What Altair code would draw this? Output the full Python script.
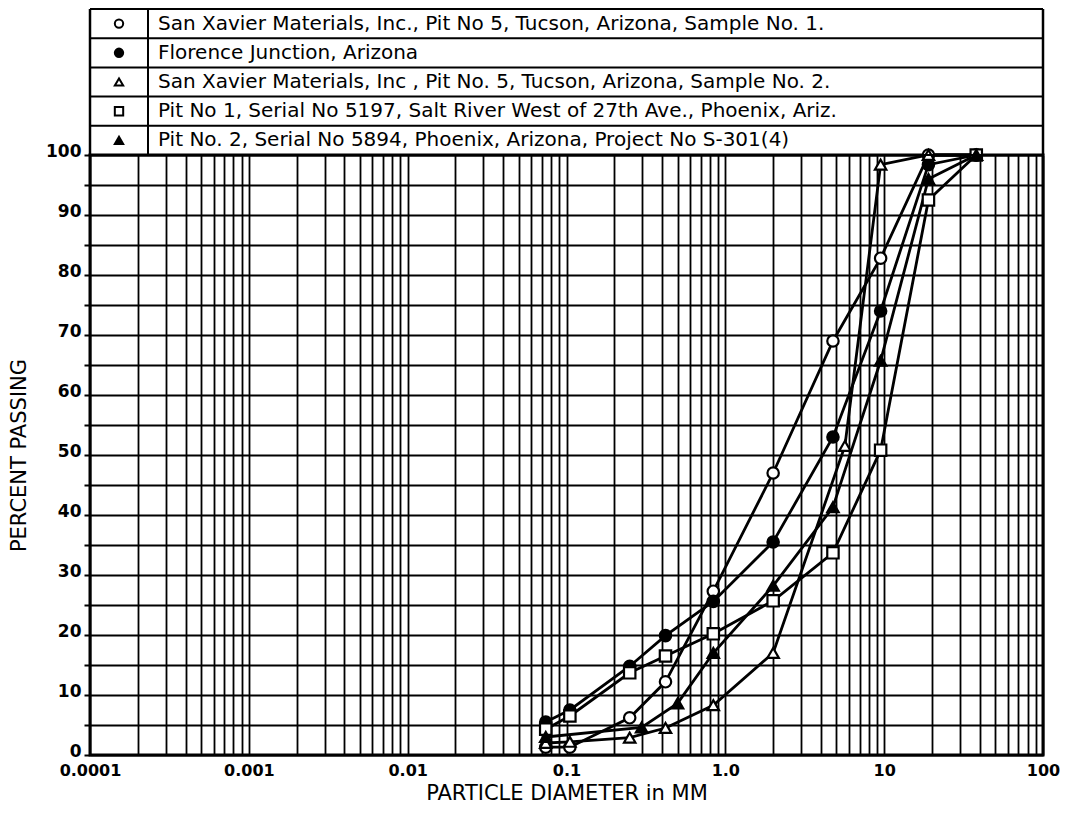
import altair as alt
import pandas as pd

# ---------------- data ----------------
legend_labels = [
    "San Xavier Materials, Inc., Pit No 5, Tucson, Arizona, Sample No. 1.",
    "Florence Junction, Arizona",
    "San Xavier Materials, Inc , Pit No. 5, Tucson, Arizona, Sample No. 2.",
    "Pit No 1, Serial No 5197, Salt River West of 27th Ave., Phoenix, Ariz.",
    "Pit No. 2, Serial No 5894, Phoenix, Arizona, Project No S-301(4)",
]
marker_shapes = ["circle", "circle", "triangle-up", "square", "triangle-up"]
marker_fills = ["white", "black", "white", "white", "black"]

sx1_size = [0.074, 0.105, 0.25, 0.42, 0.84, 2.0, 4.76, 9.5, 19.0, 38.0]
sx1_pass = [1.3, 1.3, 6.2, 12.2, 27.3, 47.0, 69.0, 82.8, 100.0, 100.0]

fj_size = [0.074, 0.105, 0.25, 0.42, 0.84, 2.0, 4.76, 9.5, 19.0, 38.0]
fj_pass = [5.5, 7.5, 14.8, 19.9, 25.6, 35.5, 53.0, 74.0, 98.4, 100.0]

sx2_size = [0.074, 0.105, 0.25, 0.42, 0.84, 2.0, 5.66, 9.5, 19.0, 38.0]
sx2_pass = [2.0, 2.2, 2.9, 4.5, 8.3, 17.0, 51.5, 98.4, 100.0, 100.0]

p1_size = [0.074, 0.105, 0.25, 0.42, 0.84, 2.0, 4.76, 9.5, 19.0, 38.0]
p1_pass = [4.3, 6.5, 13.7, 16.5, 20.2, 25.7, 33.7, 50.8, 92.5, 100.0]

p2_size = [0.074, 0.297, 0.5, 0.84, 2.0, 4.76, 9.5, 19.0, 38.0]
p2_pass = [3.0, 4.6, 8.6, 17.0, 28.2, 41.3, 65.7, 96.0, 100.0]

x_decades = [0.0001, 0.001, 0.01, 0.1, 1, 10, 100]
x_decade_labels = ["0.0001", "0.001", "0.01", "0.1", "1.0", "10", "100"]
y_ticks = list(range(0, 101, 5))

# ---------------- tables ----------------
rows = []
for lab, xs, ys in zip(legend_labels,
                       [sx1_size, fj_size, sx2_size, p1_size, p2_size],
                       [sx1_pass, fj_pass, sx2_pass, p1_pass, p2_pass]):
    for s, p in zip(xs, ys):
        rows.append({"series": lab, "size": s, "pct": p})
df = pd.DataFrame(rows)

grid_vals = []
for d in x_decades[:-1]:
    for m in range(1, 10):
        grid_vals.append(round(d * m, 6))
grid_vals.append(100)

label_expr = " : ".join(
    f"datum.value == {v} ? '{t}'" for v, t in zip(x_decades, x_decade_labels)
) + " : ''"

FONT = "DejaVu Sans"
W, H = 953, 600
TABLE_H = 146

shape_scale = alt.Scale(domain=legend_labels, range=marker_shapes)
fill_scale = alt.Scale(domain=legend_labels, range=marker_fills)

xaxis = alt.Axis(
    values=grid_vals, labelExpr=label_expr, grid=True, gridColor="black",
    gridWidth=1.8, gridOpacity=1, ticks=False, domain=False,
    labelFont=FONT, labelFontSize=16, labelFontWeight="bold", labelColor="black",
    labelOverlap=False, labelFlush=False, labelBound=False, labelPadding=7,
    title="PARTICLE DIAMETER in MM", titleFont=FONT, titleFontSize=21,
    titleFontWeight="normal", titleColor="black", titlePadding=4,
)
yaxis = alt.Axis(
    values=y_ticks, labelExpr="datum.value % 10 == 0 ? datum.value : ''",
    grid=True, gridColor="black", gridWidth=1.8, gridOpacity=1,
    ticks=True, tickSize=6, tickWidth=2, tickColor="black", domain=False,
    labelFont=FONT, labelFontSize=17, labelFontWeight="bold", labelColor="black",
    labelOverlap=False, labelPadding=3, labelOffset=-4,
    title="PERCENT PASSING", titleFont=FONT, titleFontSize=21,
    titleFontWeight="normal", titleColor="black", titlePadding=16,
)

base = alt.Chart(df).encode(
    x=alt.X("size:Q", scale=alt.Scale(type="log", domain=[0.0001, 100]), axis=xaxis),
    y=alt.Y("pct:Q", scale=alt.Scale(domain=[0, 100]), axis=yaxis),
)
lines = base.mark_line(color="black", strokeWidth=2.8).encode(
    detail="series:N", order="size:Q"
)
points = base.mark_point(filled=True, stroke="black", strokeWidth=2.2, size=130, opacity=1).encode(
    shape=alt.Shape("series:N", scale=shape_scale, legend=None),
    fill=alt.Fill("series:N", scale=fill_scale, legend=None),
)
main = alt.layer(lines, points)

# ------------- legend table above the plot -------------
row_scale = alt.Scale(domain=[0, 5], range=[-TABLE_H, 0])
leg_df = pd.DataFrame({"series": legend_labels,
                       "rowc": [i + 0.5 for i in range(len(legend_labels))]})
bounds_df = pd.DataFrame({"b": list(range(len(legend_labels) + 1))})
span_df = pd.DataFrame({"b0": [0], "b1": [len(legend_labels)]})

hlines = alt.Chart(bounds_df).mark_rule(color="black", strokeWidth=2).encode(
    y=alt.Y("b:Q", scale=row_scale, axis=None), x=alt.value(0), x2=alt.value(W)
)
vrules = [
    alt.Chart(span_df).mark_rule(color="black", strokeWidth=sw).encode(
        x=alt.value(xv), y=alt.Y("b0:Q", scale=row_scale, axis=None), y2="b1:Q"
    )
    for xv, sw in [(0, 2.5), (58, 2), (W, 2.5)]
]
sym = alt.Chart(leg_df).mark_point(filled=True, stroke="black", strokeWidth=2, size=70, opacity=1).encode(
    x=alt.value(29),
    y=alt.Y("rowc:Q", scale=row_scale, axis=None),
    shape=alt.Shape("series:N", scale=shape_scale, legend=None),
    fill=alt.Fill("series:N", scale=fill_scale, legend=None),
)
txt = alt.Chart(leg_df).mark_text(align="left", baseline="middle", font=FONT,
                                  fontSize=20, color="black").encode(
    x=alt.value(68),
    y=alt.Y("rowc:Q", scale=row_scale, axis=None),
    text="series:N",
)
legend = alt.layer(hlines, *vrules, sym, txt)

chart = alt.layer(main, legend).resolve_scale(y="independent").properties(
    width=W, height=H,
    autosize=alt.AutoSizeParams(type="none"),
    padding={"left": 82, "top": 147, "right": 18, "bottom": 54},
    background="white",
).configure_view(stroke="black", strokeWidth=3)

chart.save("out.html", embed_options={"renderer": "svg", "actions": False})
